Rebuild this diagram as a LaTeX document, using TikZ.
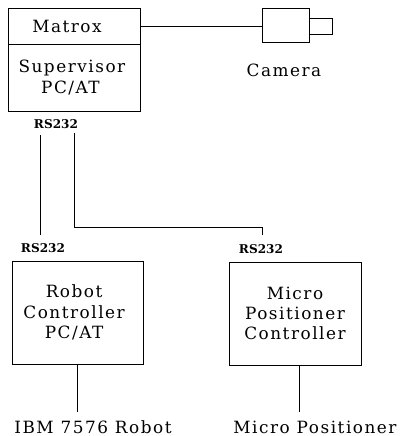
\documentclass[tikz,border=0pt]{standalone}
\usepackage{fontspec}
\setmainfont[LetterSpace=9]{DejaVu Serif}
\newfontfamily\portfont{DejaVu Serif}
\usetikzlibrary{calc}

\begin{document}
\begin{tikzpicture}[x=1cm,y=1cm,
  every node/.append style={font=\fontsize{12}{14.4}\selectfont,inner sep=0pt,outer sep=0pt},
  box/.style={draw,align=center},
  port/.style={font=\portfont\bfseries\fontsize{8.6}{9}\selectfont},
  wire/.style={line width=0.55pt}]
  \useasboundingbox (0,0) rectangle (10,10.9);

  \node[box,minimum width=3.3cm,minimum height=0.9cm] (matrox) at (1.85,10.25) {Matrox\kern10pt};
  \node[box,minimum width=3.3cm,minimum height=1.675cm] (super) at (1.85,8.96) {Supervisor\kern3pt\\PC/AT\kern5pt};
  \node[box,minimum width=1.175cm,minimum height=0.85cm] (camera) at (7.14,10.275) {};
  \node[box,minimum width=0.575cm,minimum height=0.4cm] (lens) at (8.01,10.25) {};
  \node (camlabel) at (7.1,9.13) {Camera};
  \draw[wire] (matrox.east) -- (matrox.east -| camera.west);

  \node[port] (rsa) at (1.4,7.8) {RS232};
  \node[port] (rsb) at (1.075,4.7) {RS232};
  \node[port] (rsc) at (6.525,4.675) {RS232};

  \coordinate (robottop) at (1.0,7.525);
  \coordinate (robotend) at (1.0,5.025);
  \coordinate (microtop) at (1.86,7.575);
  \coordinate (microbend) at (1.86,5.225);
  \coordinate (microend) at (6.55,5.025);
  \draw[wire] (robottop) -- (robotend);
  \draw[wire] (microtop) -- (microbend) -| (microend);

  \node[box,minimum width=3.275cm,minimum height=2.575cm] (robot) at (1.94,3.09) {Robot\kern5pt\\Controller\kern5pt\\PC/AT\kern5pt};
  \node[box,minimum width=3.3cm,minimum height=2.575cm] (micro) at (7.375,3.06) {Micro\\Positioner\\Controller};

  \node (ibm) at (2.325,0.22) {IBM\ 7576\ Robot};
  \node (stage) at (7.875,0.22) {Micro\ Positioner};
  \coordinate (ibmtop) at (1.94,0.6);
  \coordinate (stagetop) at (7.475,0.6);
  \draw[wire] (robot.south) -- (ibmtop);
  \draw[wire] (stagetop |- micro.south) -- (stagetop);
\end{tikzpicture}
\end{document}
